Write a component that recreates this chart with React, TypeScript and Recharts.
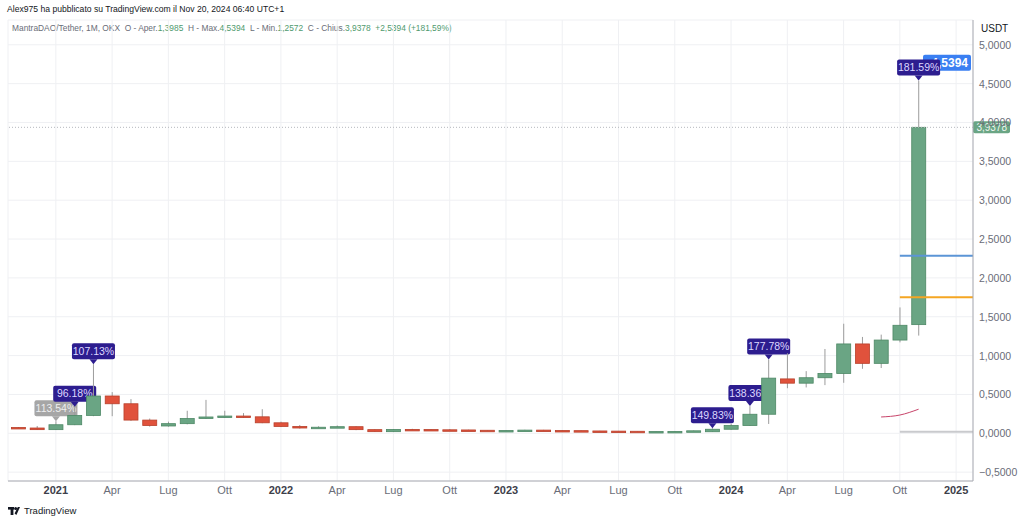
import React from "react";
import {
  ComposedChart,
  Bar,
  Line,
  XAxis,
  YAxis,
  CartesianGrid,
  ReferenceLine,
  ReferenceDot
} from "recharts";

// monthly candles, Nov 2020 .. Nov 2024 (index 0 = Nov 2020)
const opens = [
  0.075, 0.068, 0.047, 0.11, 0.23, 0.48, 0.38, 0.17, 0.094, 0.124, 0.19, 0.206, 0.222, 0.212, 0.135, 0.088, 0.068,
  0.078, 0.085, 0.047, 0.021, 0.05, 0.049, 0.045, 0.043, 0.039, 0.031, 0.036, 0.041, 0.036, 0.034, 0.03, 0.028,
  0.026, 0.022, 0.021, 0.024, 0.02, 0.052, 0.1, 0.245, 0.7, 0.645, 0.715, 0.77, 1.15, 0.9, 1.2, 1.3985
];
const highs = [
  0.08, 0.094, 0.155, 0.34, 0.89, 0.53, 0.44, 0.19, 0.15, 0.29, 0.43, 0.29, 0.26, 0.31, 0.15, 0.107, 0.09,
  0.1, 0.09, 0.05, 0.055, 0.058, 0.052, 0.055, 0.046, 0.041, 0.037, 0.045, 0.044, 0.04, 0.036, 0.032, 0.03,
  0.028, 0.025, 0.025, 0.035, 0.065, 0.12, 0.35, 0.95, 1.03, 0.8, 1.085, 1.41, 1.24, 1.27, 1.62, 4.5394
];
const lows = [
  0.068, 0.045, 0.045, 0.105, 0.22, 0.22, 0.16, 0.085, 0.085, 0.115, 0.185, 0.2, 0.2, 0.13, 0.08, 0.06, 0.065,
  0.07, 0.04, 0.018, 0.018, 0.043, 0.042, 0.038, 0.036, 0.034, 0.029, 0.034, 0.029, 0.032, 0.03, 0.027, 0.024,
  0.022, 0.02, 0.019, 0.022, 0.018, 0.045, 0.095, 0.12, 0.58, 0.59, 0.62, 0.65, 0.83, 0.84, 1.17, 1.2572
];
const closes = [
  0.07, 0.047, 0.11, 0.23, 0.48, 0.38, 0.17, 0.1, 0.124, 0.19, 0.21, 0.222, 0.212, 0.135, 0.088, 0.068, 0.078,
  0.085, 0.047, 0.021, 0.05, 0.049, 0.045, 0.043, 0.039, 0.036, 0.036, 0.041, 0.031, 0.034, 0.032, 0.029, 0.026,
  0.025, 0.023, 0.024, 0.032, 0.052, 0.1, 0.245, 0.71, 0.645, 0.715, 0.77, 1.15, 0.9, 1.2, 1.39, 3.9378
];

// thin moving line near the end
const maIdx = [46, 47, 48];
const maVals = [0.21, 0.235, 0.31];

// percentage flags on highs (last one is drawn on top of the price tag)
const flagIdx = [2, 3, 4, 37, 39, 40];
const flagText = ["113.54%", "96.18%", "107.13%", "149.83%", "138.36%", "177.78%"];
const flagGrey = [2];
const topFlagIdx = 48;
const topFlagText = "181.59%";

const xTickIdx = [2, 5, 8, 11, 14, 17, 20, 23, 26, 29, 32, 35, 38, 41, 44, 47, 50];
const xTickLabels = ["2021", "Apr", "Lug", "Ott", "2022", "Apr", "Lug", "Ott", "2023", "Apr", "Lug", "Ott", "2024", "Apr", "Lug", "Ott", "2025"];
const yTicks = [-0.5, 0, 0.5, 1, 1.5, 2, 2.5, 3, 3.5, 4, 4.5, 5];

const lastClose = 3.9378;
const blueLevel = 2.285;
const orangeLevel = 1.75;
const greyLevel = 0.02;
const highTagLevel = 4.77;

const data = opens.map((o, i) => ({
  i,
  o,
  h: highs[i],
  l: lows[i],
  c: closes[i],
  range: [lows[i], highs[i]],
  ma: maIdx.includes(i) ? maVals[maIdx.indexOf(i)] : null
}));

const FONT = "'Liberation Sans', Arial, sans-serif";
const GREEN = "#6aa584";
const GREEN_EDGE = "#4d8865";
const RED = "#e0523c";
const RED_EDGE = "#b8402b";
const WICK = "#9c9c9c";
const PURPLE = "#2d1d8f";

const fmt = (v: number) => (v < 0 ? "\u2212" : "") + Math.abs(v).toFixed(4).replace(".", ",");

// flag box sitting above a point (cx, tip)
const Flag = ({ cx, tip, text, grey }: { cx: number; tip: number; text: string; grey?: boolean }) => {
  const fw = 43;
  const fh = 16;
  const ry = tip - 5 - fh;
  const fill = grey ? "#a6a6a6" : PURPLE;
  return (
    <g>
      <rect x={cx - fw / 2} y={ry} width={fw} height={fh} rx={2} fill={fill} />
      <path d={`M${cx - 4},${ry + fh} L${cx + 4},${ry + fh} L${cx},${tip} Z`} fill={fill} />
      <text x={cx} y={ry + 11.5} textAnchor="middle" fontSize={10.5} fill={grey ? "#eeeeee" : "#ddd8ff"} fontFamily={FONT}>
        {text}
      </text>
    </g>
  );
};

const Candle = (props: any) => {
  const { x, y, width, height, payload } = props;
  const { o, h, l, c, i } = payload;
  const span = h - l || 1e-6;
  const py = (v: number) => y + ((h - v) / span) * height;
  const up = c >= o;
  const cx = x + width / 2;
  const top = py(Math.max(o, c));
  const bot = py(Math.min(o, c));
  const bh = Math.max(bot - top, 1.5);
  const k = flagIdx.indexOf(i);
  return (
    <g>
      <line x1={cx} x2={cx} y1={py(h)} y2={py(l)} stroke={WICK} strokeWidth={1} />
      <rect
        x={x + 0.5}
        y={top}
        width={width - 1}
        height={bh}
        fill={up ? GREEN : RED}
        stroke={up ? GREEN_EDGE : RED_EDGE}
        strokeWidth={0.8}
      />
      {k >= 0 && <Flag cx={cx} tip={y} text={flagText[k]} grey={flagGrey.includes(i)} />}
    </g>
  );
};

const TopFlag = (props: any) => {
  const { viewBox } = props;
  const cx = viewBox.x + (viewBox.width || 0) / 2;
  const cy = viewBox.y + (viewBox.height || 0) / 2;
  return <Flag cx={cx} tip={cy} text={topFlagText} />;
};

const XTick = (p: any) => {
  const k = xTickIdx.indexOf(p.payload.value);
  const label = xTickLabels[k] ?? "";
  const year = /^\d{4}$/.test(label);
  return (
    <text
      x={p.x}
      y={494}
      textAnchor="middle"
      fontSize={11}
      fontWeight={year ? 700 : 400}
      fill={year ? "#3d404a" : "#6a6d78"}
      fontFamily={FONT}
    >
      {label}
    </text>
  );
};

const YTick = (p: any) => (
  <text x={979} y={p.y + 4} fontSize={10.5} fill="#6a6d78" fontFamily={FONT}>
    {fmt(p.payload.value)}
  </text>
);

const PriceTag = (props: any) => {
  const { viewBox, text, fill, left, right, h, fs, bold, color } = props;
  const edge = viewBox.x + viewBox.width;
  const cy = viewBox.y;
  return (
    <g>
      <rect x={edge + left} y={cy - h / 2} width={right - left} height={h} rx={2} fill={fill} />
      <text
        x={edge + right - 3}
        y={cy + fs * 0.36}
        textAnchor="end"
        fontSize={fs}
        fontWeight={bold ? 700 : 400}
        fill={color || "#ffffff"}
        fontFamily={FONT}
      >
        {text}
      </text>
    </g>
  );
};

export default function App() {
  return (
    <div
      style={{
        position: "absolute",
        left: 0,
        top: 0,
        width: 1024,
        height: 522,
        background: "#ffffff",
        fontFamily: FONT,
        overflow: "hidden"
      }}
    >
      <div style={{ position: "absolute", left: 7, top: 4, fontSize: 8.6, color: "#131722", whiteSpace: "nowrap" }}>
        Alex975 ha pubblicato su TradingView.com il Nov 20, 2024 06:40 UTC+1
      </div>
      <div style={{ position: "absolute", left: 12, top: 23, fontSize: 8.4, color: "#6a6d78", whiteSpace: "nowrap" }}>
        MantraDAO/Tether, 1M, OKX&nbsp;&nbsp;O - Aper.<span style={{ color: "#4f9a6e" }}>1,3985</span>&nbsp;&nbsp;H - Max.
        <span style={{ color: "#4f9a6e" }}>4,5394</span>&nbsp;&nbsp;L - Min.<span style={{ color: "#4f9a6e" }}>1,2572</span>
        &nbsp;&nbsp;C - Chius.<span style={{ color: "#4f9a6e" }}>3,9378</span>&nbsp;&nbsp;
        <span style={{ color: "#4f9a6e" }}>+2,5394 (+181,59%)</span>
      </div>
      <div style={{ position: "absolute", left: 981, top: 23, fontSize: 10, color: "#131722" }}>USDT</div>

      <ComposedChart
        width={1024}
        height={522}
        data={data}
        margin={{ top: 20, right: 0, bottom: 11, left: 8 }}
      >
        <CartesianGrid stroke="#eff0f3" />
        <XAxis
          dataKey="i"
          type="number"
          domain={[-0.55, 50.9]}
          allowDataOverflow
          ticks={xTickIdx}
          tick={<XTick />}
          tickLine={false}
          axisLine={{ stroke: "#a9abb2" }}
          height={30}
          interval={0}
        />
        <YAxis
          orientation="right"
          type="number"
          domain={[-0.614, 5.319]}
          allowDataOverflow
          ticks={yTicks}
          tick={<YTick />}
          tickLine={false}
          axisLine={{ stroke: "#a9abb2" }}
          width={51}
          interval={0}
        />
        <ReferenceLine y={lastClose} stroke="#b5b7bd" strokeDasharray="1 2" />
        <ReferenceLine
          segment={[{ x: 47, y: blueLevel }, { x: 50.9, y: blueLevel }]}
          stroke="#5b95d6"
          strokeWidth={2}
        />
        <ReferenceLine
          segment={[{ x: 47, y: orangeLevel }, { x: 50.9, y: orangeLevel }]}
          stroke="#f5a623"
          strokeWidth={2}
        />
        <ReferenceLine
          segment={[{ x: 47, y: greyLevel }, { x: 50.9, y: greyLevel }]}
          stroke="#c9cacd"
          strokeWidth={2}
        />
        <Bar dataKey="range" barSize={15} shape={<Candle />} isAnimationActive={false} />
        <Line
          dataKey="ma"
          type="monotone"
          stroke="#c8446a"
          strokeWidth={1}
          dot={false}
          connectNulls={false}
          isAnimationActive={false}
        />
        <ReferenceLine
          y={highTagLevel}
          stroke="none"
          label={<PriceTag text="4,5394" fill="#3a7ff2" left={-50} right={-2} h={16} fs={12} bold />}
        />
        <ReferenceDot
          x={topFlagIdx}
          y={highs[topFlagIdx]}
          r={0}
          fill="none"
          stroke="none"
          label={<TopFlag />}
        />
        <ReferenceLine
          y={lastClose}
          stroke="none"
          label={<PriceTag text="3,9378" fill={GREEN} left={0} right={37} h={12} fs={10} color="#eef6f0" />}
        />
      </ComposedChart>

      <div style={{ position: "absolute", left: 8, top: 505, display: "flex", alignItems: "center", gap: 4 }}>
        <svg width={12} height={8}>
          <rect x={0} y={0} width={6} height={2.6} fill="#131722" />
          <rect x={2.6} y={0} width={2.8} height={8} fill="#131722" />
          <circle cx={7.6} cy={1.5} r={1.5} fill="#131722" />
          <path d="M8.4,8 L12,0 L9.8,0 L6.6,6.4 Z" fill="#131722" />
        </svg>
        <span style={{ fontSize: 9.5, color: "#131722" }}>TradingView</span>
      </div>
    </div>
  );
}
